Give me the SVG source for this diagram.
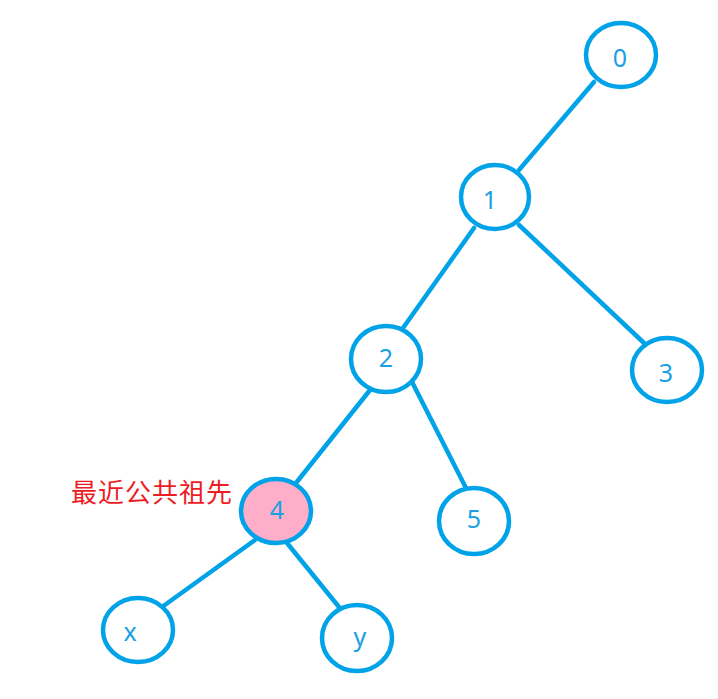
<svg xmlns="http://www.w3.org/2000/svg" width="718" height="699" viewBox="0 0 718 699">
<style>
.n{fill:#fff;stroke:#00a2e8;stroke-width:4.5}
.h{fill:#ffaec9}
.t{font-family:"Noto Sans","Liberation Sans",sans-serif;font-size:25px;fill:#1ba1e2;text-anchor:middle;dominant-baseline:central}
.e{stroke:#00a2e8;stroke-width:4.5;stroke-linecap:round;fill:none}
.lbl{font-family:"Noto Sans CJK SC",sans-serif;font-size:26px;fill:#ed1c24}
</style>
<rect width="718" height="699" fill="#fff"/>
<g id="connectors">
<line class="e" x1="594" y1="82" x2="519" y2="170"/>
<line class="e" x1="474" y1="228" x2="403" y2="328"/>
<line class="e" x1="519" y1="225" x2="644" y2="343"/>
<line class="e" x1="370" y1="390" x2="296" y2="483"/>
<line class="e" x1="410" y1="378" x2="467" y2="490"/>
<line class="e" x1="255" y1="540" x2="162" y2="607"/>
<line class="e" x1="287" y1="543" x2="339" y2="607"/>
</g>
<g id="node0"><ellipse class="n" cx="621" cy="55" rx="35" ry="32"/><text class="t" x="620" y="57">0</text></g>
<g id="node1"><ellipse class="n" cx="495" cy="197" rx="34" ry="32"/><text class="t" x="490" y="199">1</text></g>
<g id="node2"><ellipse class="n" cx="386" cy="359" rx="35" ry="33"/><text class="t" x="386" y="357">2</text></g>
<g id="node3"><ellipse class="n" cx="667" cy="370" rx="35" ry="32"/><text class="t" x="666" y="372">3</text></g>
<g id="node4"><ellipse class="n h" cx="276" cy="511" rx="35" ry="32"/><text class="t" x="277" y="509">4</text></g>
<g id="node5"><ellipse class="n" cx="474" cy="521" rx="35" ry="33"/><text class="t" x="474" y="518">5</text></g>
<g id="nodex"><ellipse class="n" cx="138" cy="630" rx="35" ry="32"/><text class="t" x="130" y="631">x</text></g>
<g id="nodey"><ellipse class="n" cx="357" cy="638" rx="35" ry="33"/><text class="t" x="360" y="636">y</text></g>
<text class="lbl" x="71" y="502" textLength="161">最近公共祖先</text>
</svg>
